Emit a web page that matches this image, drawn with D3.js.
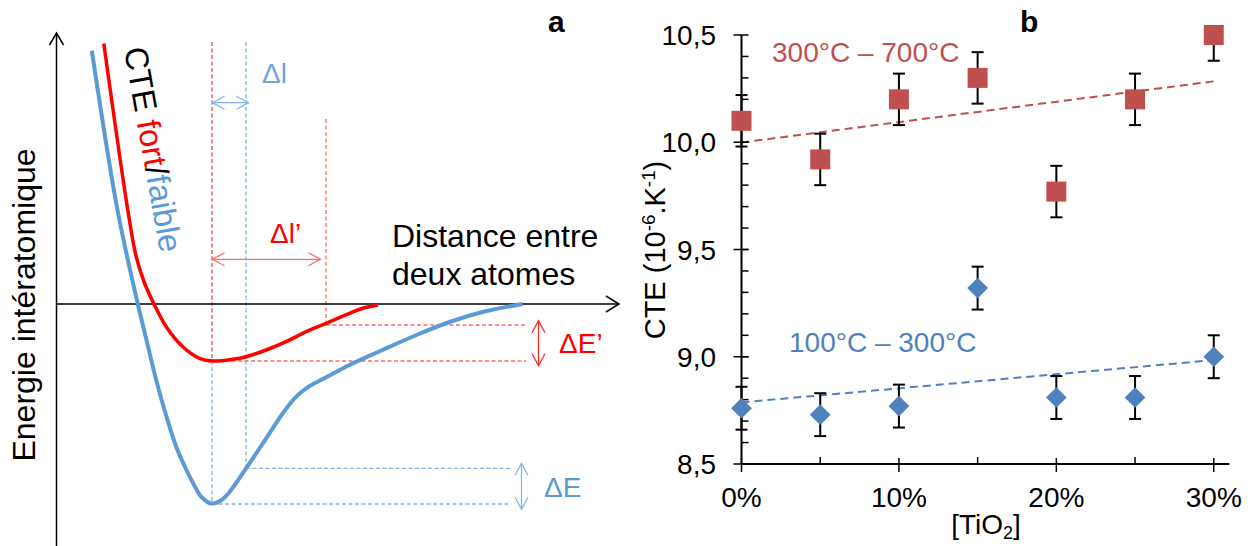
<!DOCTYPE html>
<html><head><meta charset="utf-8">
<script src="https://cdn.jsdelivr.net/npm/d3@7"></script>
<style>body{margin:0;background:#fff}svg{display:block}text{font-family:"Liberation Sans",Arial,sans-serif}</style>
</head><body><svg id="c" width="1251" height="546"></svg>
<script>
// ---------- Panel b data ----------
const tio2 = [0, 0.05, 0.10, 0.15, 0.20, 0.25, 0.30];
const cteHigh = [10.10, 9.92, 10.20, 10.30, 9.77, 10.20, 10.50];   // 300°C – 700°C
const errHigh = [0.12, 0.12, 0.12, 0.12, 0.12, 0.12, 0.12];
const cteLow = [8.76, 8.73, 8.77, 9.32, 8.81, 8.81, 9.00];          // 100°C – 300°C
const errLow = [0.10, 0.10, 0.10, 0.10, 0.10, 0.10, 0.10];
const seriesNames = ["300°C – 700°C", "100°C – 300°C"];
const yTicks = [8.5, 9.0, 9.5, 10.0, 10.5];
const yTickLabels = ["8,5", "9,0", "9,5", "10,0", "10,5"];
const xTicks = [0, 0.10, 0.20, 0.30];
const xTickLabels = ["0%", "10%", "20%", "30%"];
const xMinorTicks = [0.05, 0.15, 0.25];

// ---------- Panel a schematic data (distance r, energy E) ----------
const blueCurve = [[0.706,12.67],[1.22,4.7],[1.626,0],[1.8,-1.8],[1.994,-3.8],[2.19,-5.55],[2.394,-7.135],[2.58,-8.2],[2.74,-9.0],[2.9,-9.65],[3.1,-9.975],[3.3,-9.8],[3.46,-9.4],[3.62,-8.85],[3.86,-7.965],[4.194,-6.715],[4.526,-5.465],[4.794,-4.635],[4.994,-4.215],[5.394,-3.665],[5.86,-3.05],[6.52,-2.3],[7.2,-1.55],[7.86,-0.9],[8.52,-0.4],[9.32,0]];
const redCurve = [[0.946,13.03],[1.426,4.7],[1.594,2.365],[1.76,1.05],[1.96,-0.05],[2.194,-1.135],[2.526,-2.135],[2.86,-2.715],[3.126,-2.85],[3.526,-2.765],[3.794,-2.635],[4.194,-2.3],[4.594,-1.885],[4.994,-1.385],[5.394,-0.965],[5.86,-0.465],[6.126,-0.215],[6.426,-0.05]];
// guide lines: [r, E1, E2] vertical ; [E, r1, r2] horizontal
const vGuidesBlue = [[3.11,13.1,-10],[3.79,13.1,-8.215]];
const vGuidesRed = [[3.11,13.1,-2.85],[5.39,9.25,-1.05]];
const hGuidesRed = [[-2.85,3.11,9.39],[-1.05,5.39,9.4]];
const hGuidesBlue = [[-8.215,3.79,9.1],[-10,3.11,9.1]];
const axisAExtent = {rMax: 11.25, eMax: 13.55, eMin: -12.2};

const svg = d3.select("#c");
const RED = "#ff0000", BLUE = "#5b9bd5";
const LRED = "#ff6b6b", LBLUE = "#85b5e4";

// ---------- Panel a ----------
const xA = d3.scaleLinear().domain([0, 10]).range([56.5, 556.5]);
const yA = d3.scaleLinear().domain([0, -10]).range([304, 504]);
const gA = svg.append("g");

function openHead(g, x, y, ang, len, half, color, w) {
  const a = ang;
  const p1 = [x - len*Math.cos(a) + half*Math.sin(a), y - len*Math.sin(a) - half*Math.cos(a)];
  const p2 = [x - len*Math.cos(a) - half*Math.sin(a), y - len*Math.sin(a) + half*Math.cos(a)];
  g.append("path").attr("d", `M${p1[0]},${p1[1]}L${x},${y}L${p2[0]},${p2[1]}`)
    .attr("fill","none").attr("stroke",color).attr("stroke-width",w);
}
function dblArrow(g, x1, y1, x2, y2, color, w) {
  g.append("line").attr("x1",x1).attr("y1",y1).attr("x2",x2).attr("y2",y2)
    .attr("stroke",color).attr("stroke-width",w);
  const a = Math.atan2(y2-y1, x2-x1);
  openHead(g, x2, y2, a, 12, 6.5, color, w);
  openHead(g, x1, y1, a+Math.PI, 12, 6.5, color, w);
}

// guides
const dash = "4,2.5";
vGuidesBlue.forEach(d => gA.append("line").attr("x1",xA(d[0])).attr("x2",xA(d[0])).attr("y1",yA(d[1])).attr("y2",yA(d[2]))
  .attr("stroke",LBLUE).attr("stroke-width",1.3).attr("stroke-dasharray",dash));
vGuidesRed.forEach(d => gA.append("line").attr("x1",xA(d[0])).attr("x2",xA(d[0])).attr("y1",yA(d[1])).attr("y2",yA(d[2]))
  .attr("stroke",LRED).attr("stroke-width",1.3).attr("stroke-dasharray",dash));
hGuidesRed.forEach(d => gA.append("line").attr("y1",yA(d[0])).attr("y2",yA(d[0])).attr("x1",xA(d[1])).attr("x2",xA(d[2]))
  .attr("stroke",LRED).attr("stroke-width",1.3).attr("stroke-dasharray",dash));
hGuidesBlue.forEach(d => gA.append("line").attr("y1",yA(d[0])).attr("y2",yA(d[0])).attr("x1",xA(d[1])).attr("x2",xA(d[2]))
  .attr("stroke",LBLUE).attr("stroke-width",1.3).attr("stroke-dasharray",dash));

// axes with arrows
gA.append("line").attr("x1",xA(0)).attr("x2",xA(0)).attr("y1",yA(axisAExtent.eMin)).attr("y2",yA(axisAExtent.eMax))
  .attr("stroke","#000").attr("stroke-width",1.5);
openHead(gA, xA(0), yA(axisAExtent.eMax), -Math.PI/2, 12, 7, "#000", 1.5);
gA.append("line").attr("x1",xA(0)).attr("x2",xA(axisAExtent.rMax)).attr("y1",yA(0)).attr("y2",yA(0))
  .attr("stroke","#000").attr("stroke-width",1.5);
openHead(gA, xA(axisAExtent.rMax), yA(0), 0, 13, 8, "#000", 1.5);

// curves
const lineA = d3.line().x(d => xA(d[0])).y(d => yA(d[1])).curve(d3.curveCatmullRom.alpha(0.5));
gA.append("path").attr("d", lineA(blueCurve)).attr("fill","none").attr("stroke",BLUE).attr("stroke-width",4).attr("stroke-linejoin","round");
gA.append("path").attr("d", lineA(redCurve)).attr("fill","none").attr("stroke",RED).attr("stroke-width",3.5).attr("stroke-linejoin","round");

// arrows
dblArrow(gA, xA(3.12), yA(10.065), xA(3.84), yA(10.065), LBLUE, 1.3);
dblArrow(gA, xA(3.12), yA(2.235), xA(5.28), yA(2.235), LRED, 1.3);
dblArrow(gA, xA(9.64), yA(-0.835), xA(9.64), yA(-3.085), "#ff2a2a", 1.3);
dblArrow(gA, xA(9.30), yA(-7.965), xA(9.30), yA(-10.265), LBLUE, 1.3);

// texts panel a
gA.append("text").attr("x",262).attr("y",83).attr("font-size",28).attr("fill","#6ea7dc").text("Δl");
gA.append("text").attr("x",270).attr("y",243).attr("font-size",28).attr("fill",RED).text("Δl’");
gA.append("text").attr("x",559).attr("y",353).attr("font-size",28).attr("fill",RED).text("ΔE’");
gA.append("text").attr("x",544).attr("y",497).attr("font-size",28).attr("fill",BLUE).text("ΔE");
gA.append("text").attr("x",392).attr("y",247).attr("font-size",32).attr("fill","#000").text("Distance entre");
gA.append("text").attr("x",392).attr("y",285).attr("font-size",32).attr("fill","#000").text("deux atomes");
gA.append("text").attr("transform","translate(35,305) rotate(-90)").attr("text-anchor","middle")
  .attr("font-size",32).attr("fill","#000").text("Energie intératomique");
const cte = gA.append("text").attr("transform","translate(124,49) rotate(80)").attr("font-size",32.5);
cte.append("tspan").attr("fill","#000").text("CTE ");
cte.append("tspan").attr("fill",RED).text("fort");
cte.append("tspan").attr("fill","#000").text("/");
cte.append("tspan").attr("fill",BLUE).text("faible");
gA.append("text").attr("x",548).attr("y",32).attr("font-size",30).attr("font-weight","bold").text("a");

// ---------- Panel b ----------
const xs = d3.scaleLinear().domain([0, 0.31]).range([741.5, 1229.5]);
const ys = d3.scaleLinear().domain([8.5, 10.5]).range([464, 35]);
const gB = svg.append("g");
const C_HIGH = "#c0504d", C_LOW = "#4f81bd";

svg.append("clipPath").attr("id","plotclip").append("rect")
  .attr("x",700).attr("y",ys(10.5)).attr("width",551).attr("height",ys(8.5)-ys(10.5));

// trend lines (least squares from data)
function fit(xv, yv) {
  const mx = d3.mean(xv), my = d3.mean(yv);
  const b = d3.sum(xv.map((x,i)=>(x-mx)*(yv[i]-my))) / d3.sum(xv.map(x=>(x-mx)*(x-mx)));
  return [b, my - b*mx];
}
[[cteHigh, C_HIGH],[cteLow, C_LOW]].forEach(([vals, col]) => {
  const [b, a] = fit(tio2, vals);
  const x0 = d3.min(tio2), x1 = d3.max(tio2);
  gB.append("line").attr("x1",xs(x0)).attr("y1",ys(a+b*x0)).attr("x2",xs(x1)).attr("y2",ys(a+b*x1))
    .attr("stroke",col).attr("stroke-width",2).attr("stroke-dasharray","8,5");
});

// axes
gB.append("line").attr("x1",xs(0)).attr("x2",xs(0)).attr("y1",ys(8.5)).attr("y2",ys(10.5)).attr("stroke","#000").attr("stroke-width",2);
gB.append("line").attr("x1",xs(0)).attr("x2",xs(0.31)).attr("y1",ys(8.5)).attr("y2",ys(8.5)).attr("stroke","#000").attr("stroke-width",2);
const yMinor = d3.range(8.6, 10.45, 0.1);
yMinor.forEach(v => gB.append("line").attr("x1",xs(0)).attr("x2",xs(0)+7).attr("y1",ys(v)).attr("y2",ys(v)).attr("stroke","#000").attr("stroke-width",1.5));
yTicks.forEach((v,i) => {
  gB.append("line").attr("x1",xs(0)-8).attr("x2",xs(0)+7).attr("y1",ys(v)).attr("y2",ys(v)).attr("stroke","#000").attr("stroke-width",1.5);
  gB.append("text").attr("x",716).attr("y",ys(v)).attr("dy","0.36em").attr("text-anchor","end").attr("font-size",28).attr("fill","#000").text(yTickLabels[i]);
});
xMinorTicks.forEach(v => gB.append("line").attr("x1",xs(v)).attr("x2",xs(v)).attr("y1",ys(8.5)).attr("y2",ys(8.5)-7).attr("stroke","#000").attr("stroke-width",1.5));
xTicks.forEach((v,i) => {
  gB.append("line").attr("x1",xs(v)).attr("x2",xs(v)).attr("y1",ys(8.5)-6).attr("y2",ys(8.5)+8).attr("stroke","#000").attr("stroke-width",1.5);
  gB.append("text").attr("x",xs(v)).attr("y",507).attr("text-anchor","middle").attr("font-size",28).attr("fill","#000").text(xTickLabels[i]);
});

// axis titles
const yt = gB.append("text").attr("transform","translate(665,250) rotate(-90)").attr("text-anchor","middle").attr("font-size",29).attr("fill","#000");
yt.append("tspan").text("CTE (10");
yt.append("tspan").attr("baseline-shift","super").attr("font-size","0.65em").text("-6");
yt.append("tspan").text(".K");
yt.append("tspan").attr("baseline-shift","super").attr("font-size","0.65em").text("-1");
yt.append("tspan").text(")");
const xt = gB.append("text").attr("x",986).attr("y",534).attr("text-anchor","middle").attr("font-size",28).attr("fill","#000");
xt.append("tspan").text("[TiO");
xt.append("tspan").attr("dy",5).attr("font-size",18).text("2");
xt.append("tspan").attr("dy",-5).text("]");

// error bars
const gE = gB.append("g").attr("clip-path","url(#plotclip)");
[[cteHigh, errHigh],[cteLow, errLow]].forEach(([vals, errs]) => {
  tio2.forEach((t,i) => {
    const x = xs(t), lo = ys(vals[i]-errs[i]), hi = ys(vals[i]+errs[i]);
    gE.append("line").attr("x1",x).attr("x2",x).attr("y1",lo).attr("y2",hi).attr("stroke","#000").attr("stroke-width",2);
    [lo, hi].forEach(y => gE.append("line").attr("x1",x-6).attr("x2",x+6).attr("y1",y).attr("y2",y).attr("stroke","#000").attr("stroke-width",2));
  });
});

// markers
const sq = d3.symbol().type(d3.symbolSquare).size(400);
const dm = d3.symbol().type(d3.symbolSquare).size(215);
tio2.forEach((t,i) => {
  gB.append("path").attr("d", sq()).attr("transform",`translate(${xs(t)},${ys(cteHigh[i])})`).attr("fill",C_HIGH);
  gB.append("path").attr("d", dm()).attr("transform",`translate(${xs(t)},${ys(cteLow[i])}) rotate(45)`).attr("fill",C_LOW);
});

// series labels
gB.append("text").attr("x",772).attr("y",62).attr("font-size",28).attr("fill",C_HIGH).text(seriesNames[0]);
gB.append("text").attr("x",789).attr("y",352).attr("font-size",28).attr("fill",C_LOW).text(seriesNames[1]);
gB.append("text").attr("x",1020).attr("y",32).attr("font-size",30).attr("font-weight","bold").text("b");
</script></body></html>
